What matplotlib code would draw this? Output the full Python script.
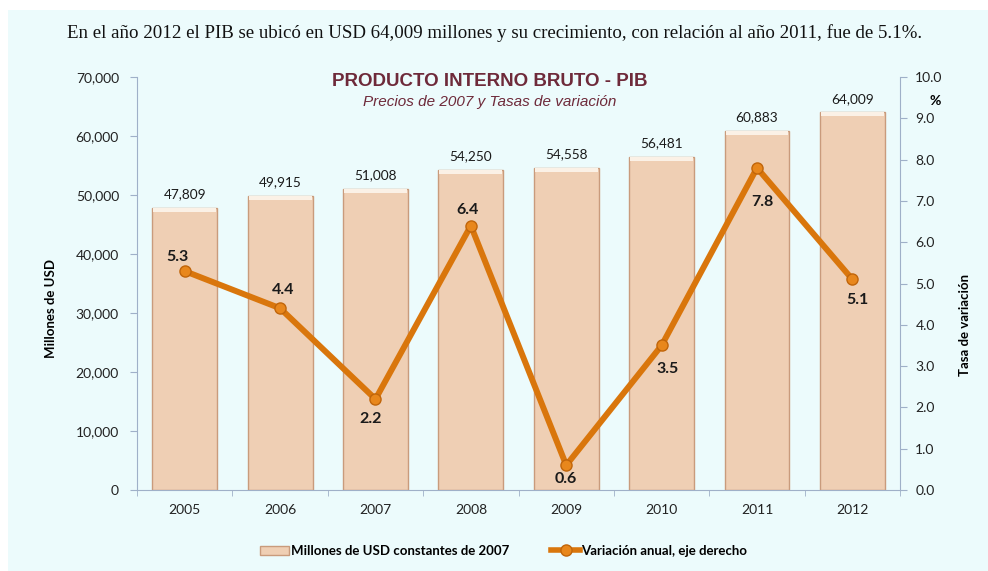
import numpy as np
from matplotlib import pyplot as plt, ticker
from matplotlib.patches import Patch, Rectangle
from matplotlib.lines import Line2D

years = ['2005', '2006', '2007', '2008', '2009', '2010', '2011', '2012']
pib = [47809, 49915, 51008, 54250, 54558, 56481, 60883, 64009]
variacion = [5.3, 4.4, 2.2, 6.4, 0.6, 3.5, 7.8, 5.1]

# where each rate label sits relative to its point, in pixels (dx, dy; +dy is up)
label_offsets = [(-7, 14), (3, 18), (-5, -20), (-3, 16), (0, -14), (6, -24), (5, -34), (5, -21)]

BG = '#ecfbfc'
MAROON = '#6e2a3a'
BAR = '#efcfb4'
BAR_EDGE = '#c99b7c'
LINE = '#d9760c'
AXIS = '#9fb0c8'
FONT = 'Lato'

fig = plt.figure(figsize=(9.88, 5.71), dpi=100, facecolor='white')
fig.patches.append(Rectangle((8 / 988, 0), 1, 1 - 10 / 571, transform=fig.transFigure,
                             facecolor=BG, edgecolor='none', zorder=-10))
ax = fig.add_axes([0.1387, 0.1419, 0.7723, 0.7232])
ax.set_facecolor('none')

x = np.arange(len(years))
ax.bar(x, pib, width=0.68, color=BAR, edgecolor=BAR_EDGE, linewidth=1.0, zorder=2)
# lighter cap on top of each bar
ax.bar(x, [700] * len(x), bottom=np.array(pib) - 700, width=0.66,
       color='#fbf1e6', edgecolor='none', zorder=3)
for xi, v in zip(x, pib):
    ax.text(xi, v + 1300, f'{v:,}', ha='center', va='bottom', fontsize=9.8,
            family=FONT, color='#1a1a1a', zorder=5)

ax.set_xlim(-0.5, len(years) - 0.5)
ax.set_ylim(0, 70000)
ax.set_yticks(np.arange(0, 70001, 10000))
ax.yaxis.set_major_formatter(ticker.FuncFormatter(lambda v, p: f'{int(v):,}'))
ax.set_xticks(x)
ax.set_xticklabels(years)
ax.set_xticks(np.arange(-0.5, len(years), 1), minor=True)
ax.tick_params(axis='y', direction='out', length=5, color=AXIS, labelsize=10, pad=8)
ax.tick_params(axis='x', which='major', length=0, labelsize=10, pad=10)
ax.tick_params(axis='x', which='minor', direction='out', length=4, color=AXIS)
for lab in ax.get_xticklabels() + ax.get_yticklabels():
    lab.set_family(FONT)
    lab.set_color('#222222')
for side in ['top', 'right']:
    ax.spines[side].set_visible(False)
ax.spines['left'].set_color(AXIS)
ax.spines['bottom'].set_color(AXIS)
ax.set_ylabel('Millones de USD', family=FONT, fontweight='bold', fontsize=9.5, labelpad=6)
ax.yaxis.set_label_coords(-0.105, 0.44)

ax2 = ax.twinx()
ax2.set_ylim(0, 10)
ax2.set_yticks(np.arange(0, 10.01, 1))
ax2.yaxis.set_major_formatter(ticker.FormatStrFormatter('%.1f'))
ax2.tick_params(axis='y', direction='out', length=5, color=AXIS, labelsize=10, pad=6)
for lab in ax2.get_yticklabels():
    lab.set_family(FONT)
    lab.set_color('#222222')
for side in ['top', 'left', 'bottom']:
    ax2.spines[side].set_visible(False)
ax2.spines['right'].set_color(AXIS)
ax2.set_ylabel('Tasa de variación', family=FONT, fontweight='bold', fontsize=9.5)
ax2.yaxis.set_label_coords(1.077, 0.40)
ax2.text(1.046, 0.943, '%', transform=ax2.transAxes, family=FONT, fontweight='bold',
         fontsize=10, ha='center', va='center')

ax2.plot(x, variacion, '-', color=LINE, linewidth=4.3, zorder=4,
         marker='o', markersize=8, markerfacecolor='#e8871c', markeredgecolor='#c0650a')
px = 72 / fig.dpi
for xi, v, (dx, dy) in zip(x, variacion, label_offsets):
    ax2.annotate(f'{v}', (xi, v), xytext=(dx * px, dy * px), textcoords='offset points',
                 ha='center', va='center', fontsize=11.5, fontweight='bold',
                 family=FONT, color='#1a1a1a', zorder=5)

fig.text(0.496, 0.857, 'PRODUCTO INTERNO BRUTO - PIB', ha='center', va='center',
         family='Liberation Sans', fontweight='bold', fontsize=13.5, color=MAROON)
fig.text(0.496, 0.821, 'Precios de 2007 y Tasas de variación', ha='center', va='center',
         family='Liberation Sans', style='italic', fontsize=11, color=MAROON)
fig.text(0.501, 0.942, 'En el año 2012 el PIB se ubicó en USD 64,009 millones y su crecimiento, '
         'con relación al año 2011, fue de 5.1%.', ha='center', va='center',
         family='Liberation Serif', fontsize=13.6, color='#111111')

# legend at the bottom
handles = [Patch(facecolor=BAR, edgecolor=BAR_EDGE),
           Line2D([0], [0], color=LINE, linewidth=4, marker='o', markersize=8,
                  markerfacecolor='#e8871c', markeredgecolor='#c0650a')]
fig.legend(handles, ['Millones de USD constantes de 2007', 'Variación anual, eje derecho'],
           loc='center', bbox_to_anchor=(0.51, 0.035), ncol=2, frameon=False,
           prop={'family': FONT, 'weight': 'bold', 'size': 9.5},
           handlelength=2.2, handletextpad=0.1, columnspacing=3.2)

fig.savefig('out.png', dpi=100, facecolor='white')
